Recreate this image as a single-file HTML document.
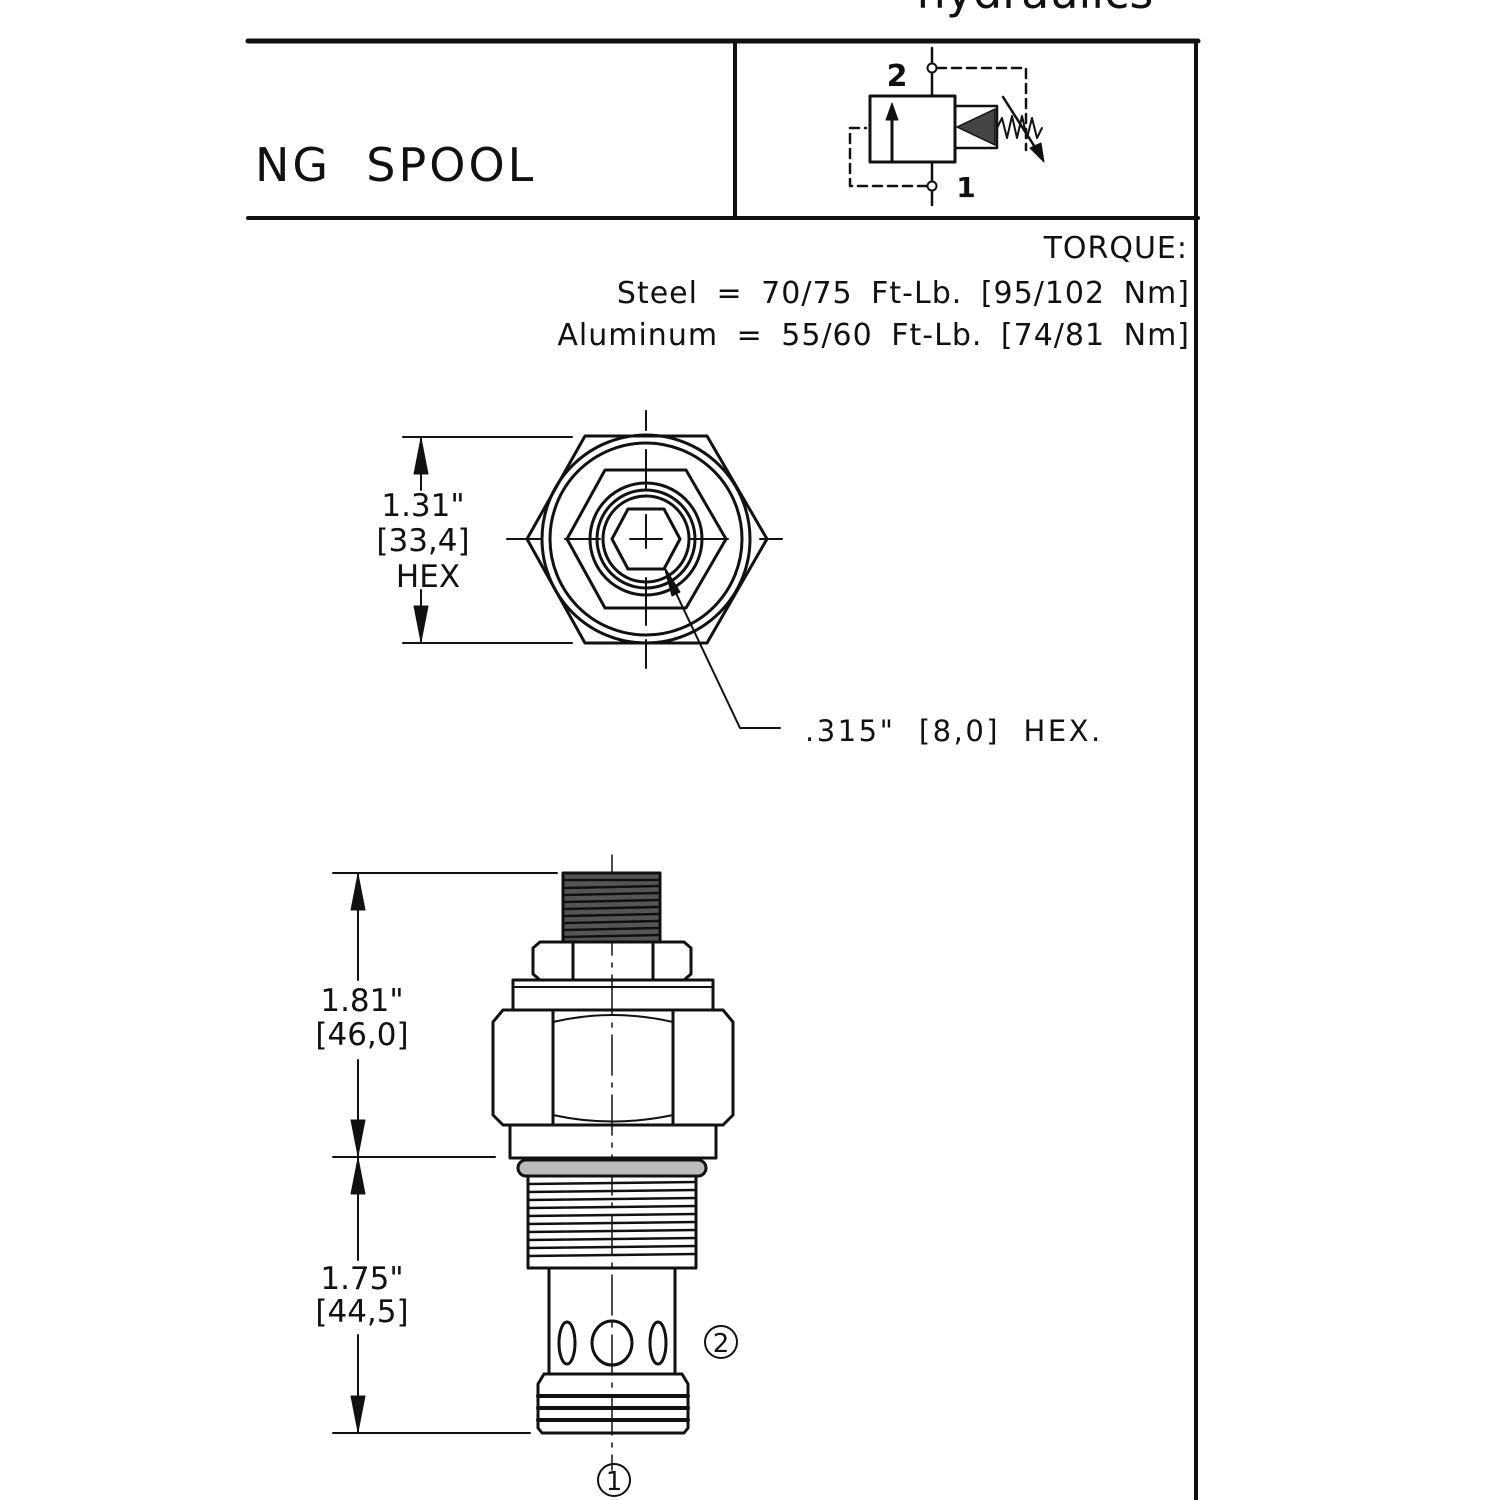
<!DOCTYPE html>
<html><head><meta charset="utf-8"><style>
html,body{margin:0;padding:0;background:#fff;}
svg{display:block;}
text{font-family:"DejaVu Sans","Liberation Sans",sans-serif;fill:#111;}
</style></head><body>
<svg width="1500" height="1500" viewBox="0 0 1500 1500" xmlns="http://www.w3.org/2000/svg">
<g stroke="#111" fill="none" stroke-linecap="round" stroke-linejoin="round">
<!-- frame -->
<line x1="248" y1="41" x2="1198" y2="41" stroke-width="5"/>
<line x1="248" y1="218" x2="1198" y2="218" stroke-width="4"/>
<line x1="735" y1="41" x2="735" y2="218" stroke-width="4"/>
<line x1="1196" y1="41" x2="1196" y2="1500" stroke-width="4"/>

<!-- symbol -->
<rect x="870" y="96" width="85" height="66" stroke-width="3"/>
<line x1="892" y1="162" x2="892" y2="115" stroke-width="3"/>
<polygon points="892,103 886,120 898,120" fill="#111"/>
<line x1="932" y1="48" x2="932" y2="96" stroke-width="2.5"/>
<line x1="932" y1="162" x2="932" y2="205" stroke-width="2.5"/>
<circle cx="932" cy="68" r="4.5" stroke-width="2" fill="#fff"/>
<circle cx="932" cy="186" r="4.5" stroke-width="2" fill="#fff"/>
<polyline points="937,68 1026,68 1026,150" stroke-width="2.5" stroke-dasharray="9,6"/>
<polyline points="927,186 850,186 850,128 866,128" stroke-width="2.5" stroke-dasharray="9,6"/>
<rect x="955" y="106" width="42" height="42" stroke-width="2.5"/>
<polygon points="957,127 995,109 995,145" fill="#444" stroke-width="1.5"/>
<polyline points="997,128 1002,118 1007,138 1012,116 1017,138 1022,116 1027,138 1032,118 1037,138 1042,128" stroke-width="2"/>
<line x1="1003" y1="97" x2="1040" y2="155" stroke-width="2.5"/>
<polygon points="1044,162 1030,148 1041,143" fill="#111"/>

<!-- top view hex -->
<polygon points="527,539 585,436 707,436 767,539 707,643 585,643" stroke-width="3"/>
<circle cx="646" cy="539" r="104" stroke-width="3"/>
<circle cx="646" cy="539" r="96" stroke-width="3"/>
<polygon points="567,539 605,470 686,470 726,539 686,608 605,608" stroke-width="3"/>
<circle cx="646" cy="539" r="56" stroke-width="3"/>
<circle cx="646" cy="539" r="49" stroke-width="3"/>
<circle cx="646" cy="539" r="43" stroke-width="3"/>
<polygon points="612,539 628,509 664,509 680,539 664,569 628,569" stroke-width="3"/>
<line x1="646" y1="411" x2="646" y2="430" stroke-width="2"/>
<line x1="646" y1="450" x2="646" y2="490" stroke-width="2"/>
<line x1="646" y1="515" x2="646" y2="548" stroke-width="2"/>
<line x1="646" y1="578" x2="646" y2="625" stroke-width="2"/>
<line x1="646" y1="640" x2="646" y2="668" stroke-width="2"/>
<line x1="507" y1="539" x2="540" y2="539" stroke-width="2"/>
<line x1="630" y1="539" x2="662" y2="539" stroke-width="2"/>
<line x1="565" y1="539" x2="600" y2="539" stroke-width="2"/>
<line x1="690" y1="539" x2="728" y2="539" stroke-width="2"/>
<line x1="760" y1="539" x2="782" y2="539" stroke-width="2"/>
<polyline points="666,572 740,728 780,728" stroke-width="2"/>
<polygon points="664,566 680,592 672,596" fill="#111"/>
<!-- top dims -->
<line x1="403" y1="437" x2="572" y2="437" stroke-width="2"/>
<line x1="403" y1="643" x2="572" y2="643" stroke-width="2"/>
<line x1="421" y1="437" x2="421" y2="490" stroke-width="2"/>
<line x1="421" y1="590" x2="421" y2="643" stroke-width="2"/>
<polygon points="421,438 414,474 428,474" fill="#111"/>
<polygon points="421,642 414,606 428,606" fill="#111"/>

<!-- side view -->
<line x1="612" y1="855" x2="612" y2="1470" stroke-width="1.5" stroke-dasharray="40,8,4,8"/>
<rect x="563" y="873" width="97" height="69" stroke-width="3" fill="#555"/>
<g stroke-width="2.5">
<line x1="565" y1="880" x2="658" y2="880"/><line x1="565" y1="888" x2="658" y2="886"/><line x1="565" y1="895" x2="658" y2="893"/><line x1="565" y1="902" x2="658" y2="900"/><line x1="565" y1="909" x2="658" y2="907"/><line x1="565" y1="916" x2="658" y2="914"/><line x1="565" y1="923" x2="658" y2="921"/><line x1="565" y1="930" x2="658" y2="928"/><line x1="565" y1="937" x2="658" y2="935"/>
</g>
<path d="M533,948 L540,942 L684,942 L691,948 L691,974 L684,980 L540,980 L533,974 Z" stroke-width="3"/>
<line x1="573" y1="942" x2="573" y2="980" stroke-width="3"/>
<line x1="653" y1="942" x2="653" y2="980" stroke-width="3"/>
<rect x="513" y="980" width="200" height="30" stroke-width="3"/>
<line x1="513" y1="987" x2="713" y2="987" stroke-width="2"/>
<path d="M493,1022 L503,1010 L723,1010 L733,1022 L733,1115 L723,1125 L503,1125 L493,1115 Z" stroke-width="3"/>
<line x1="553" y1="1010" x2="553" y2="1125" stroke-width="3"/>
<line x1="673" y1="1010" x2="673" y2="1125" stroke-width="3"/>
<path d="M553,1022 Q612,1008 673,1022 M553,1115 Q612,1128 673,1115" stroke-width="2"/>
<rect x="510" y="1125" width="206" height="33" stroke-width="3"/>
<rect x="518" y="1160" width="188" height="16" rx="8" stroke-width="3" fill="#bbb"/>
<rect x="528" y="1176" width="168" height="92" stroke-width="3"/>
<g stroke-width="2.5">
<line x1="528" y1="1184" x2="696" y2="1182"/><line x1="528" y1="1192" x2="696" y2="1190"/><line x1="528" y1="1200" x2="696" y2="1198"/><line x1="528" y1="1208" x2="696" y2="1206"/><line x1="528" y1="1216" x2="696" y2="1214"/><line x1="528" y1="1224" x2="696" y2="1222"/><line x1="528" y1="1232" x2="696" y2="1230"/><line x1="528" y1="1240" x2="696" y2="1238"/><line x1="528" y1="1248" x2="696" y2="1246"/><line x1="528" y1="1256" x2="696" y2="1254"/>
</g>
<line x1="549" y1="1268" x2="549" y2="1373" stroke-width="3"/>
<line x1="675" y1="1268" x2="675" y2="1373" stroke-width="3"/>
<ellipse cx="567" cy="1343" rx="8" ry="21" stroke-width="3"/>
<ellipse cx="612" cy="1343" rx="20" ry="22" stroke-width="3"/>
<ellipse cx="658" cy="1343" rx="8" ry="21" stroke-width="3"/>
<path d="M538,1384 L544,1374 L682,1374 L688,1384 L688,1428 L684,1433 L542,1433 L538,1428 Z" stroke-width="3"/>
<line x1="538" y1="1396" x2="688" y2="1396" stroke-width="4"/>
<line x1="538" y1="1408" x2="688" y2="1408" stroke-width="4"/>
<line x1="538" y1="1420" x2="688" y2="1420" stroke-width="4"/>
<!-- side dims -->
<line x1="333" y1="873" x2="557" y2="873" stroke-width="2"/>
<line x1="333" y1="1157" x2="495" y2="1157" stroke-width="2"/>
<line x1="333" y1="1433" x2="530" y2="1433" stroke-width="2"/>
<line x1="358" y1="873" x2="358" y2="980" stroke-width="2"/>
<line x1="358" y1="1060" x2="358" y2="1260" stroke-width="2"/>
<line x1="358" y1="1335" x2="358" y2="1433" stroke-width="2"/>
<polygon points="358,874 351,910 365,910" fill="#111"/>
<polygon points="358,1156 351,1120 365,1120" fill="#111"/>
<polygon points="358,1158 351,1194 365,1194" fill="#111"/>
<polygon points="358,1432 351,1396 365,1396" fill="#111"/>
<circle cx="721" cy="1342" r="16" stroke-width="2"/>
<circle cx="614" cy="1480" r="16" stroke-width="2"/>
</g>

<text x="1035" y="8" font-size="46" text-anchor="middle">hydraulics</text>
<text x="255" y="181" font-size="46" letter-spacing="3">NG&#160;&#160;SPOOL</text>
<text x="897" y="86" font-size="30" font-weight="bold" text-anchor="middle">2</text>
<text x="966" y="197" font-size="28" font-weight="bold" text-anchor="middle">1</text>

<g font-size="30" text-anchor="end" letter-spacing="1" word-spacing="8" style="font-family:'Liberation Sans',sans-serif">
<text x="1188" y="258">TORQUE:</text>
<text x="1190" y="303">Steel = 70/75 Ft-Lb. [95/102 Nm]</text>
<text x="1190" y="345">Aluminum = 55/60 Ft-Lb. [74/81 Nm]</text>
</g>
<g font-size="31" text-anchor="middle">
<text x="423" y="516">1.31"</text>
<text x="423" y="551">[33,4]</text>
<text x="428" y="587">HEX</text>
<text x="362" y="1011">1.81"</text>
<text x="362" y="1045">[46,0]</text>
<text x="362" y="1289">1.75"</text>
<text x="362" y="1322">[44,5]</text>
</g>
<text x="805" y="741" font-size="29" letter-spacing="2.5" xml:space="preserve">.315"  [8,0]  HEX.</text>
<text x="721" y="1352" font-size="26" text-anchor="middle">2</text>
<text x="614" y="1490" font-size="26" text-anchor="middle">1</text>
</svg>
</body></html>
